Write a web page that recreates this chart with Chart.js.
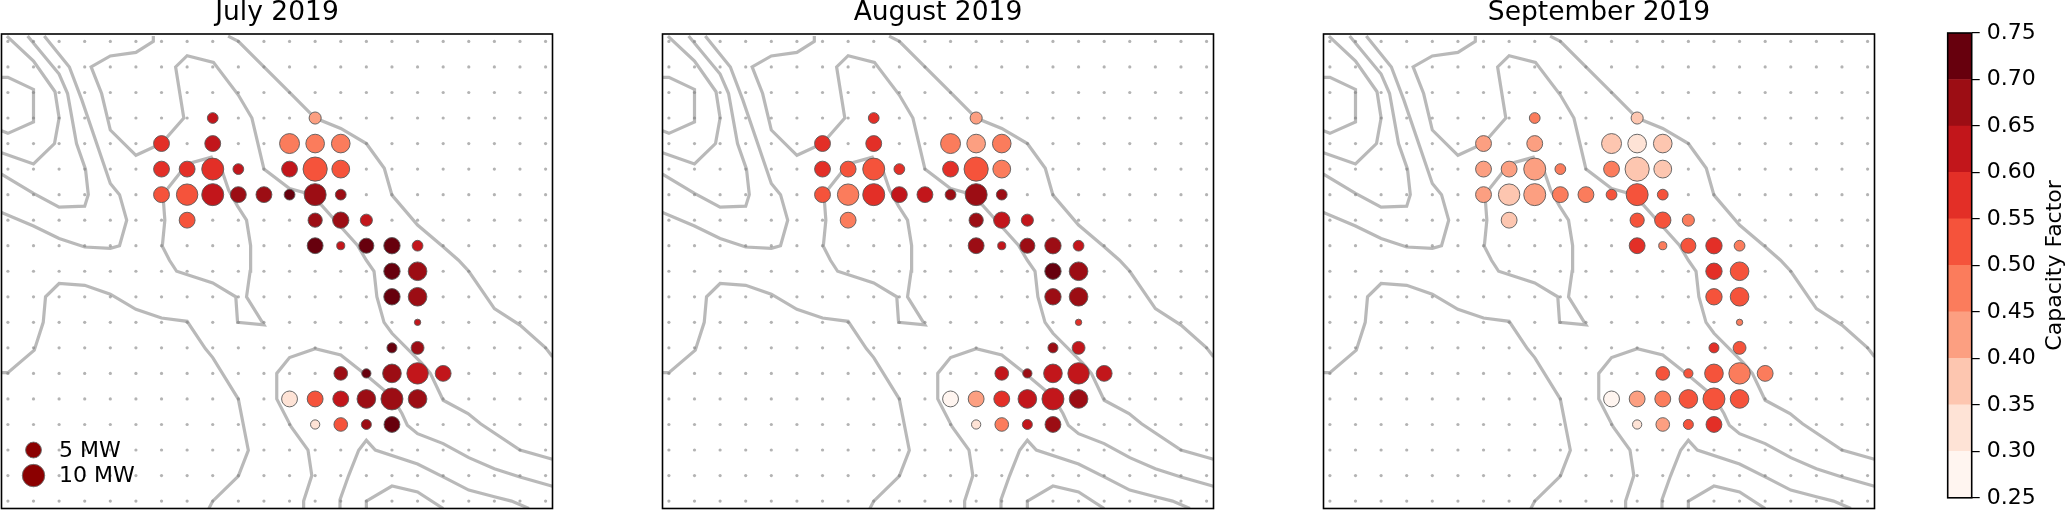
<!DOCTYPE html>
<html>
<head>
<meta charset="utf-8">
<title>Capacity Factor</title>
<script src="https://cdn.jsdelivr.net/npm/chart.js@4"></script>
<style>
  html, body { margin: 0; padding: 0; background: #fff; }
  body { position: relative; width: 2067px; height: 518px; overflow: hidden; }
  canvas { position: absolute; top: 0; }
</style>
</head>
<body>
<canvas id="julyChart" width="560" height="518" style="left:0px"></canvas>
<canvas id="augustChart" width="560" height="518" style="left:661px"></canvas>
<canvas id="septemberChart" width="560" height="518" style="left:1322px"></canvas>
<canvas id="colorbar" width="147" height="518" style="left:1920px"></canvas>
<script>
// grid of the model, in column / row numbers
const gridCols = [0, 1, 2, 3, 4, 5, 6, 7, 8, 9, 10, 11, 12, 13, 14, 15, 16, 17, 18, 19, 20, 21];
const gridRows = [0, 1, 2, 3, 4, 5, 6, 7, 8, 9, 10, 11, 12, 13, 14, 15, 16, 17, 18];

// wind farm sites
const siteCols = [8, 12, 6, 8, 11, 12, 13, 6, 7, 8, 9, 11, 12, 13, 6, 7, 8, 9, 10, 11, 12, 13, 7, 12, 13, 14,
  12, 13, 14, 15, 16, 15, 16, 15, 16, 16, 15, 16, 13, 14, 15, 16, 17, 11, 12, 13, 14, 15, 16, 12, 13, 14, 15];
const siteRows = [3, 3, 4, 4, 4, 4, 4, 5, 5, 5, 5, 5, 5, 5, 6, 6, 6, 6, 6, 6, 6, 6, 7, 7, 7, 7,
  8, 8, 8, 8, 8, 9, 9, 10, 10, 11, 12, 12, 13, 13, 13, 13, 13, 14, 14, 14, 14, 14, 14, 15, 15, 15, 15];
const siteMw = [2.3, 2.9, 5, 5, 7.9, 6.9, 6.9, 5, 5, 9.6, 2.3, 5, 11.6, 6.3, 5, 9.1, 9.6, 5, 5, 2.3, 9.6, 2.3, 5, 4, 5.3, 2.9,
  5, 1.3, 4.5, 5.3, 2.3, 5.3, 6.9, 5.3, 6.9, 0.8, 2, 3.3, 3.7, 1.7, 6.9, 9.1, 5, 5, 5, 5, 6.9, 9.6, 6.9, 1.7, 3.7, 2, 5];

const julyCf = [0.625, 0.425, 0.575, 0.625, 0.475, 0.475, 0.475, 0.575, 0.575, 0.575, 0.625, 0.625, 0.525, 0.525,
  0.525, 0.525, 0.625, 0.675, 0.675, 0.725, 0.675, 0.675, 0.525, 0.675, 0.675, 0.625,
  0.725, 0.625, 0.725, 0.725, 0.625, 0.725, 0.675, 0.725, 0.675, 0.625, 0.725, 0.675,
  0.675, 0.725, 0.675, 0.625, 0.625, 0.325, 0.525, 0.625, 0.675, 0.675, 0.675, 0.325, 0.525, 0.675, 0.725];
const augustCf = [0.575, 0.425, 0.575, 0.575, 0.475, 0.425, 0.475, 0.575, 0.525, 0.525, 0.575, 0.575, 0.525, 0.475,
  0.525, 0.475, 0.575, 0.625, 0.625, 0.675, 0.675, 0.675, 0.475, 0.675, 0.625, 0.625,
  0.675, 0.625, 0.675, 0.675, 0.625, 0.725, 0.675, 0.675, 0.675, 0.575, 0.675, 0.625,
  0.625, 0.675, 0.625, 0.625, 0.625, 0.275, 0.425, 0.575, 0.625, 0.625, 0.675, 0.325, 0.475, 0.625, 0.675];
const septemberCf = [0.475, 0.375, 0.425, 0.425, 0.375, 0.325, 0.375, 0.425, 0.425, 0.425, 0.475, 0.475, 0.375, 0.375,
  0.425, 0.375, 0.425, 0.475, 0.475, 0.525, 0.525, 0.525, 0.375, 0.525, 0.525, 0.475,
  0.575, 0.475, 0.525, 0.575, 0.475, 0.575, 0.525, 0.525, 0.525, 0.475, 0.575, 0.525,
  0.525, 0.525, 0.525, 0.475, 0.475, 0.275, 0.425, 0.475, 0.525, 0.525, 0.525, 0.325, 0.425, 0.525, 0.575];

// background contours, [column, row]
const contourA = [[-0.25, 1.41], [0, 1.41], [1, 1.88], [1, 3.15], [0, 3.6], [-0.25, 3.5]];
const contourB = [[-0.04, -0.21], [1, 0.77], [1.84, 1.97], [2, 3], [1.82, 4], [1, 4.8], [-0.25, 4.36]];
const contourC = [[0.77, -0.21], [2, 1.28], [2.33, 2.04], [2.68, 4], [3.03, 5], [3.14, 6], [3, 6.45], [2, 6.49], [1, 5.95], [-0.25, 5.2]];
const contourD = [[1.42, -0.21], [2.4, 1], [2.89, 2.3], [4, 5.56], [4.36, 6], [4.64, 7], [4.36, 8], [4, 8.1], [3, 8.05], [2, 7.72], [1, 7.23], [-0.25, 6.7]];
const contourE = [[5.68, -0.21], [5.68, 0], [5, 0.43], [4, 0.57], [3.25, 1], [3.66, 2.04], [4, 3.47], [5, 4.46], [6, 4], [6.87, 3], [6.55, 1], [7, 0.56],
  [8.03, 0.82], [9, 2.1], [9.53, 3], [10, 5], [11, 5.76], [11.62, 5.93], [12.25, 6.41], [13, 7.26], [13.65, 7.98], [14, 8.57], [14.3, 9], [14.41, 10],
  [14.69, 11], [15, 11.43], [16.16, 12.6], [16.5, 13], [17, 14.05], [17.97, 14.57], [18.46, 14.97], [20, 16], [21.27, 16.36]];
const contourF = [[8.6, -0.21], [9, 0], [10, 1], [11, 2], [12, 3], [13, 3.41], [14, 4], [14.7, 4.97], [15, 6.02], [16, 7.19], [17, 8.04], [17.6, 8.57],
  [18, 9], [19, 10.46], [20, 11.11], [21, 12], [21.27, 12.35]];
const contourG = [[8, 4.52], [7, 4.8], [6.24, 5.76], [6.07, 6.2], [6.13, 7], [6.03, 8.02], [6.31, 8.57], [6.59, 9], [8, 9.46], [8.9, 10], [8.97, 11], [10, 11.1],
  [9.32, 10], [9.46, 9], [9.48, 8], [9.32, 7], [8.97, 6.45], [8.62, 5.82], [8.34, 5]];
const contourH = [[-0.25, 12.97], [0, 12.97], [1.03, 12.09], [1.38, 11], [1.47, 10], [2, 9.48], [3, 9.55], [4, 9.9], [5, 10.49], [6, 10.83], [7, 10.96],
  [7.71, 12.03], [8, 12.38], [9, 14.01], [9.39, 16.01], [9, 17.02], [8, 18], [7.85, 18.29]];
const contourI = [[11.55, 18.29], [11.55, 18], [11.87, 17], [11.72, 16], [11.06, 15.09], [10.5, 14], [10.5, 13], [11, 12.38], [12, 12.03], [13, 12.28], [14, 13.07],
  [15, 13.92], [15.39, 14.57], [15.6, 15.03], [16, 15.36], [17, 15.75], [18, 16.3], [19, 16.73], [20, 17.06], [21.27, 17.42]];
const contourJ = [[12.97, 18.29], [12.97, 17.95], [13.3, 17.02], [13.7, 16.01], [14, 15.62], [14.35, 16], [16, 16.55], [17, 17.05], [18, 17.57], [19, 17.83], [19.67, 18], [20.35, 18.29]];
const contourK = [[14, 18.29], [14, 18], [15, 17.41], [16, 17.64], [17, 18.29]];
const contours = [contourA, contourB, contourC, contourD, contourE, contourF, contourG, contourH, contourI, contourJ, contourK];

// size key in the first panel
const keyMw = [5, 10];
const keyLabels = ["5 MW", "10 MW"];
const keyRows = [16, 17];
const keyCol = 1;
const keyLabelCol = 2;

// colour bins of the capacity factor
const binEdges = [0.25, 0.30, 0.35, 0.40, 0.45, 0.50, 0.55, 0.60, 0.65, 0.70, 0.75];
const binColors = ["#fff5f0", "#fee3d6", "#fdc6b0", "#fc9f81", "#fb7c5c", "#f5533b", "#e32f27", "#c2161b", "#9c0d14", "#67000d"];

const FONT = "'DejaVu Sans'";
const RADIUS_PER_ROOT_MW = 3.55;

function cfColor(value) {
  for (let i = 0; i < binColors.length; i++) {
    if (value < binEdges[i + 1]) return binColors[i];
  }
  return binColors[binColors.length - 1];
}

function mwRadius(mw) {
  return RADIUS_PER_ROOT_MW * Math.sqrt(mw);
}

// black frame round the plot area
const framePlugin = {
  id: "frame",
  afterDraw: function (chart) {
    const a = chart.chartArea;
    const ctx = chart.ctx;
    ctx.save();
    ctx.strokeStyle = "#000";
    ctx.lineWidth = 1.6;
    ctx.strokeRect(a.left, a.top, a.right - a.left, a.bottom - a.top);
    ctx.restore();
  }
};

// text next to the size key markers
const keyTextPlugin = {
  id: "keyText",
  afterDatasetsDraw: function (chart) {
    const ctx = chart.ctx;
    ctx.save();
    ctx.fillStyle = "#000";
    ctx.font = "22px " + FONT;
    ctx.textBaseline = "middle";
    keyLabels.forEach(function (label, i) {
      ctx.fillText(label, chart.scales.x.getPixelForValue(keyLabelCol), chart.scales.y.getPixelForValue(keyRows[i]) + 1);
    });
    ctx.restore();
  }
};

// colour bar title reads bottom to top, the axis title option only turns it the other way
const barTitlePlugin = {
  id: "barTitle",
  afterDraw: function (chart) {
    const ctx = chart.ctx;
    ctx.save();
    ctx.translate(135, (chart.chartArea.top + chart.chartArea.bottom) / 2);
    ctx.rotate(-Math.PI / 2);
    ctx.fillStyle = "#000";
    ctx.font = "22px " + FONT;
    ctx.textAlign = "center";
    ctx.textBaseline = "middle";
    ctx.fillText("Capacity Factor", 0, 0);
    ctx.restore();
  }
};

function drawPanel(canvasId, title, values, showKey) {
  const datasets = [];

  if (showKey) {
    datasets.push({
      type: "bubble",
      data: keyMw.map(function (mw, i) { return { x: keyCol, y: keyRows[i], r: mwRadius(mw) }; }),
      backgroundColor: "#8b0000",
      borderColor: "rgba(110,110,110,0.9)",
      borderWidth: 1,
      clip: false
    });
  }

  datasets.push({
    type: "bubble",
    data: siteCols.map(function (col, i) { return { x: col, y: siteRows[i], r: mwRadius(siteMw[i]) }; }),
    backgroundColor: values.map(cfColor),
    borderColor: "rgba(90,90,90,0.9)",
    borderWidth: 1
  });

  const dots = [];
  gridRows.forEach(function (row) {
    gridCols.forEach(function (col) { dots.push({ x: col, y: row }); });
  });
  datasets.push({
    type: "scatter",
    data: dots,
    backgroundColor: "rgba(128,128,128,0.6)",
    borderWidth: 0,
    pointRadius: 1.6
  });

  contours.forEach(function (line) {
    datasets.push({
      type: "scatter",
      data: line.map(function (p) { return { x: p[0], y: p[1] }; }),
      showLine: true,
      borderColor: "rgba(128,128,128,0.55)",
      borderWidth: 3.2,
      pointRadius: 0,
      tension: 0
    });
  });

  return new Chart(document.getElementById(canvasId), {
    data: { datasets: datasets },
    options: {
      responsive: false,
      animation: false,
      // bubbles must not push the frame inwards
      layout: { autoPadding: false, padding: { left: 1.5, right: 7.5, top: 0, bottom: 9.5 } },
      plugins: {
        legend: { display: false },
        tooltip: { enabled: false },
        title: {
          display: true,
          text: title,
          color: "#000",
          font: { family: FONT, size: 26.5, weight: "normal", lineHeight: 1 },
          padding: { top: 0, bottom: 7.5 }
        }
      },
      scales: {
        x: { type: "linear", display: false, min: -0.25, max: 21.27 },
        y: { type: "linear", display: false, reverse: true, min: -0.29, max: 18.29 }
      }
    },
    plugins: showKey ? [framePlugin, keyTextPlugin] : [framePlugin]
  });
}

function drawColorbar() {
  const datasets = binColors.map(function (color, i) {
    return {
      data: [[binEdges[i], binEdges[i + 1]]],
      backgroundColor: color,
      borderWidth: 0,
      barPercentage: 1,
      categoryPercentage: 1,
      grouped: false
    };
  });

  return new Chart(document.getElementById("colorbar"), {
    type: "bar",
    data: { labels: [""], datasets: datasets },
    options: {
      responsive: false,
      animation: false,
      layout: { autoPadding: false, padding: { left: 27.7, right: 0, top: 33, bottom: 9 } },
      plugins: { legend: { display: false }, tooltip: { enabled: false } },
      scales: {
        x: { display: false },
        y: {
          position: "right",
          min: 0.25,
          max: 0.75,
          afterFit: function (scale) { scale.width = 95.3; },
          afterBuildTicks: function (scale) { scale.ticks = binEdges.map(function (v) { return { value: v }; }); },
          border: { display: false },
          grid: { drawOnChartArea: false, drawTicks: true, color: "#000", lineWidth: 1.2, tickLength: 8 },
          ticks: {
            color: "#000",
            padding: 7,
            font: { family: FONT, size: 22 },
            callback: function (v) { return v.toFixed(2); }
          }
        }
      }
    },
    plugins: [framePlugin, barTitlePlugin]
  });
}

drawPanel("julyChart", "July 2019", julyCf, true);
drawPanel("augustChart", "August 2019", augustCf, false);
drawPanel("septemberChart", "September 2019", septemberCf, false);
drawColorbar();
</script>
</body>
</html>
